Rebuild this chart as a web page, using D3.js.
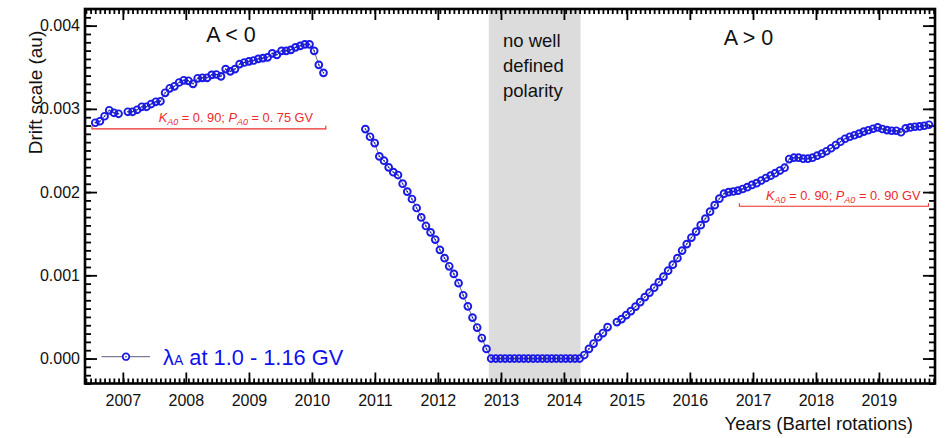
<!DOCTYPE html>
<html>
<head>
<meta charset="utf-8">
<script src="https://cdn.jsdelivr.net/npm/d3@7"></script>
<style>
  body { margin: 0; background: #fff; }
  svg { display: block; }
  text { font-family: "Liberation Sans", Arial, Helvetica, sans-serif; }
</style>
</head>
<body>
<svg id="chart" width="946" height="438"></svg>
<script>
// Drift scale λA (au), one value per Bartels rotation; null = rotation without data
const negStart = 2361;   // A < 0 epoch
const lambdaNeg = [
  0.002833, 0.002851, 0.002911, 0.002983, 0.002953, 0.002941, null, 0.002965, 0.002965, 0.002989,
  0.003025, 0.003025, 0.003058, 0.003085, 0.003091, 0.003193, 0.003247, 0.003271, 0.003317, 0.003343,
  0.003337, 0.003301, 0.003367, 0.003373, 0.003373, 0.003409, 0.003413, 0.003391, 0.003478, 0.003451,
  0.003478, 0.003538, 0.003557, 0.003571, 0.003581, 0.003601, 0.003610, 0.003619, 0.003667, 0.003649,
  0.003697, 0.003697, 0.003709, 0.003739, 0.003757, 0.003775, 0.003775, 0.003697, 0.003529, 0.003433
];
const revStart = 2419;   // descent and reversal period
const lambdaRev = [
  0.002757, 0.002665, 0.002589, 0.002429, 0.002377, 0.002297, 0.002239, 0.002205, 0.002101, 0.002005,
  0.001917, 0.001809, 0.001696, 0.001593, 0.001516, 0.001429, 0.001306, 0.001206, 0.001108, 0.001017,
  0.000906, 0.000760, 0.000627, 0.000492, 0.000372, 0.000246, 0.000116,
  0, 0, 0, 0, 0, 0, 0, 0, 0, 0, 0, 0, 0, 0, 0, 0, 0, 0, 0, 0
];
const posStart = 2466;   // A > 0 epoch
const lambdaPos = [
  0.000042, 0.000116, 0.000180, 0.000258, 0.000306, 0.000378, null, 0.000438, 0.000474, 0.000522,
  0.000570, 0.000624, 0.000678, 0.000738, 0.000792, 0.000852, 0.000918, 0.000984, 0.001056, 0.001128,
  0.001206, 0.001297, 0.001375, 0.001453, 0.001525, 0.001603, 0.001681, 0.001765, 0.001843, 0.001921,
  0.001981, 0.001999, 0.002007, 0.002017, 0.002037, 0.002059, 0.002086, 0.002107, 0.002139, 0.002169,
  0.002197, 0.002227, 0.002259, 0.002293, 0.002397, 0.002413, 0.002413, 0.002401, 0.002401, 0.002413,
  0.002437, 0.002461, 0.002491, 0.002527, 0.002565, 0.002605, 0.002641, 0.002665, 0.002683, 0.002703,
  0.002727, 0.002743, 0.002761, 0.002777, 0.002758, 0.002745, 0.002737, 0.002737, 0.002719, 0.002765,
  0.002777, 0.002785, 0.002789, 0.002797, 0.002809
];

// Reference levels of the two fits, the rotations they span and their parameters
const refLevel = [0.00276, 0.00183];
const refSpan = [[2360.3, 2410.5], [2499.3, 2539.9]];
const refLabelAt = [2391.2, 2521.6];   // rotation at the centre of each fit label
const fitK = [0.90, 0.90];
const fitP = [0.75, 0.90];

// Period without a well defined polarity (Bartels rotations)
const reversalSpan = [2445.5, 2465.2];
const reversalText = ["no well", "defined", "polarity"];
const epochLabels = ["A < 0", "A > 0"];

const yTicks = [0, 0.001, 0.002, 0.003, 0.004];
const yDomain = [-0.0003, 0.0042];
const rotationDomain = [2358.8, 2541.3];

// Bartels rotation 1 began on 8 February 1832 and each lasts 27 days
const bartelsEpoch = Date.UTC(1832, 1, 8);
const DAY = 86400000;
const rotationDate = br => new Date(bartelsEpoch + (br - 1) * 27 * DAY);

const svg = d3.select("#chart");
const frame = { left: 85, right: 935, top: 9, bottom: 383.5 };

const x = d3.scaleUtc()
  .domain(rotationDomain.map(rotationDate))
  .range([frame.left, frame.right]);
const y = d3.scaleLinear().domain(yDomain).range([frame.bottom, frame.top]);

const series = []
  .concat(lambdaNeg.map((v, i) => ({ br: negStart + i, v })))
  .concat([{ br: 2415, v: null }])
  .concat(lambdaRev.map((v, i) => ({ br: revStart + i, v })))
  .concat(lambdaPos.map((v, i) => ({ br: posStart + i, v })));

// grey band
svg.append("rect")
  .attr("x", x(rotationDate(reversalSpan[0])))
  .attr("y", frame.top)
  .attr("width", x(rotationDate(reversalSpan[1])) - x(rotationDate(reversalSpan[0])))
  .attr("height", frame.bottom - frame.top)
  .attr("fill", "#dcdcdc");

svg.append("text")
  .attr("x", 503).attr("y", 46.5)
  .attr("font-size", 18.5).attr("fill", "#111")
  .selectAll("tspan").data(reversalText).join("tspan")
  .attr("x", 503).attr("dy", (d, i) => i === 0 ? 0 : 25)
  .text(d => d);

// minor / major ticks on all four sides, pointing inward
const minorRot = d3.range(Math.ceil(rotationDomain[0]), Math.floor(rotationDomain[1]) + 1).map(rotationDate);
const years = x.ticks(d3.utcYear.every(1));
const minorY = d3.range(-3, 43).map(k => k / 10000);

function styleAxis(g) {
  g.select(".domain").remove();
  g.selectAll("line").attr("stroke", "#000").attr("stroke-width", 1.8);
  g.selectAll("text").attr("font-size", 16).attr("fill", "#111")
    .attr("font-family", '"Liberation Sans", Arial, Helvetica, sans-serif');
}

svg.append("g").attr("transform", `translate(0,${frame.bottom})`)
  .call(d3.axisBottom(x).tickValues(minorRot).tickFormat("").tickSizeInner(-5).tickSizeOuter(0)).call(styleAxis);
svg.append("g").attr("transform", `translate(0,${frame.bottom})`)
  .call(d3.axisBottom(x).tickValues(years).tickFormat(d3.utcFormat("%Y")).tickSizeInner(-11).tickSizeOuter(0).tickPadding(11))
  .call(styleAxis);
svg.append("g").attr("transform", `translate(0,${frame.top})`)
  .call(d3.axisTop(x).tickValues(minorRot).tickFormat("").tickSizeInner(-5).tickSizeOuter(0)).call(styleAxis);
svg.append("g").attr("transform", `translate(0,${frame.top})`)
  .call(d3.axisTop(x).tickValues(years).tickFormat("").tickSizeInner(-11).tickSizeOuter(0)).call(styleAxis);

svg.append("g").attr("transform", `translate(${frame.left},0)`)
  .call(d3.axisLeft(y).tickValues(minorY).tickFormat("").tickSizeInner(-6).tickSizeOuter(0)).call(styleAxis);
svg.append("g").attr("transform", `translate(${frame.left},0)`)
  .call(d3.axisLeft(y).tickValues(yTicks).tickFormat(d3.format(".3f")).tickSizeInner(-12).tickSizeOuter(0).tickPadding(5))
  .call(styleAxis);
svg.append("g").attr("transform", `translate(${frame.right},0)`)
  .call(d3.axisRight(y).tickValues(minorY).tickFormat("").tickSizeInner(-6).tickSizeOuter(0)).call(styleAxis);
svg.append("g").attr("transform", `translate(${frame.right},0)`)
  .call(d3.axisRight(y).tickValues(yTicks).tickFormat("").tickSizeInner(-12).tickSizeOuter(0)).call(styleAxis);

svg.append("rect")
  .attr("x", frame.left).attr("y", frame.top)
  .attr("width", frame.right - frame.left).attr("height", frame.bottom - frame.top)
  .attr("fill", "none").attr("stroke", "#000").attr("stroke-width", 2.6);

// axis titles
svg.append("text")
  .attr("transform", "translate(42,92.5) rotate(-90)")
  .attr("text-anchor", "middle").attr("font-size", 19).attr("fill", "#111")
  .text("Drift scale (au)");
svg.append("text")
  .attr("x", 913).attr("y", 430).attr("text-anchor", "end")
  .attr("font-size", 18.5).attr("fill", "#111")
  .text("Years (Bartel rotations)");

// epoch labels
svg.append("text").attr("x", 231).attr("y", 41.5).attr("text-anchor", "middle")
  .attr("font-size", 21.5).attr("fill", "#111").text(epochLabels[0]);
svg.append("text").attr("x", 748.5).attr("y", 45).attr("text-anchor", "middle")
  .attr("font-size", 21.5).attr("fill", "#111").text(epochLabels[1]);

// fit reference lines with their labels
const red = "#ee2b2b";
const fmtFit = v => d3.format(".2f")(v).replace(".", ". ");
refLevel.forEach((lv, i) => {
  const x0 = x(rotationDate(refSpan[i][0])), x1 = x(rotationDate(refSpan[i][1])), yy = y(lv);
  svg.append("path")
    .attr("d", `M${x0},${yy - 3}V${yy}H${x1}V${yy - 3}`)
    .attr("fill", "none").attr("stroke", red).attr("stroke-width", 1.1);
  const t = svg.append("text")
    .attr("x", x(rotationDate(refLabelAt[i]))).attr("y", yy - 6.5)
    .attr("text-anchor", "middle").attr("font-size", 12.8).attr("fill", red);
  t.append("tspan").attr("font-style", "italic").text("K");
  t.append("tspan").attr("font-style", "italic").attr("font-size", 9).attr("dy", 3).text("A0");
  t.append("tspan").attr("dy", -3).text(` = ${fmtFit(fitK[i])}; `);
  t.append("tspan").attr("font-style", "italic").text("P");
  t.append("tspan").attr("font-style", "italic").attr("font-size", 9).attr("dy", 3).text("A0");
  t.append("tspan").attr("dy", -3).text(` = ${fmtFit(fitP[i])} GV`);
});

// data line and markers
const blue = "#1a1ae6";
const line = d3.line()
  .defined(d => d.v !== null)
  .x(d => x(rotationDate(d.br)))
  .y(d => y(d.v));
svg.append("path").datum(series)
  .attr("d", line).attr("fill", "none").attr("stroke", "#6b6b80").attr("stroke-width", 1);

const pts = series.filter(d => d.v !== null);
const marks = svg.append("g");
marks.selectAll("circle.o").data(pts).join("circle")
  .attr("class", "o")
  .attr("cx", d => x(rotationDate(d.br))).attr("cy", d => y(d.v))
  .attr("r", 3.4).attr("fill", "none").attr("stroke", blue).attr("stroke-width", 1.9);
marks.selectAll("circle.c").data(pts).join("circle")
  .attr("class", "c")
  .attr("cx", d => x(rotationDate(d.br))).attr("cy", d => y(d.v))
  .attr("r", 0.8).attr("fill", "#222288");

// legend
svg.append("line").attr("x1", 101.5).attr("x2", 150).attr("y1", 356.7).attr("y2", 356.7)
  .attr("stroke", "#5a5a88").attr("stroke-width", 1);
svg.append("circle").attr("cx", 126).attr("cy", 356.7).attr("r", 3.3)
  .attr("fill", "#fff").attr("stroke", blue).attr("stroke-width", 1.7);
svg.append("circle").attr("cx", 126).attr("cy", 356.7).attr("r", 0.8).attr("fill", "#222288");
const lg = svg.append("text").attr("x", 163).attr("y", 365).attr("font-size", 21.8).attr("fill", "#1010ee");
lg.append("tspan").text("λ");
lg.append("tspan").attr("font-size", 14).text("A");
lg.append("tspan").text(" at 1.0 - 1.16 GV");
</script>
</body>
</html>
